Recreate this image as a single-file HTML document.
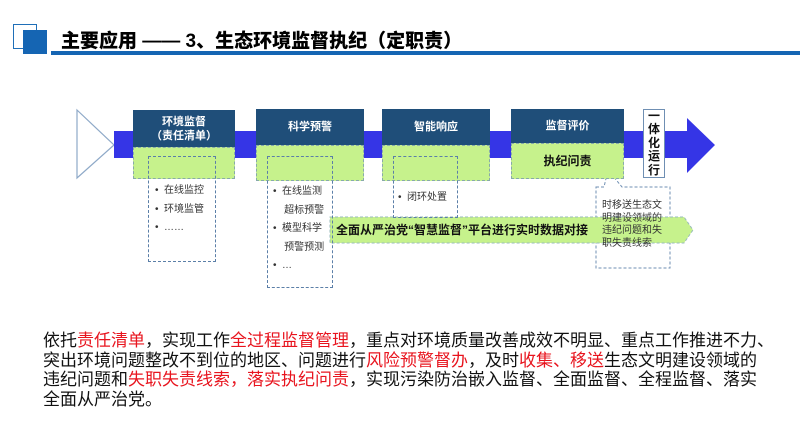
<!DOCTYPE html>
<html><head><meta charset="utf-8">
<style>
*{margin:0;padding:0;box-sizing:border-box}
body{width:800px;height:430px;background:#fff;position:relative;overflow:hidden;font-family:"Liberation Sans","Noto Sans CJK SC",sans-serif}
.a{position:absolute}
.hd{background:#1f4e79;color:#fff;font-weight:bold;font-size:11px;text-align:center;display:flex;align-items:center;justify-content:center;line-height:14px}
.gr{background:#c6f28c;border:1px dashed #8aa;}
.dl{border:1px dashed #5b7fa8;}
.li{font-size:10px;color:#333;line-height:18.5px;white-space:nowrap}
.bt{font-size:17px;line-height:19.6px;white-space:nowrap;color:#111;font-family:"Liberation Sans","Noto Sans CJK SC",sans-serif}
.r{color:#e8141e}
</style></head><body>
<div class="a" style="left:13px;top:24px;width:24px;height:25px;border:1.5px solid #1f6fb8"></div>
<div class="a" style="left:23px;top:30px;width:24px;height:24px;background:#1565b3"></div>
<div class="a" style="left:51px;top:51px;width:749px;height:4px;background:#1565b3"></div>
<div class="a" style="left:61px;top:26px;font-size:19px;font-weight:900;color:#000;white-space:nowrap">主要应用 —— 3、生态环境监督执纪（定职责）</div>

<svg class="a" style="left:0;top:0" width="800" height="300">
<polygon points="77,110 114,145 77,178" fill="#fff" stroke="#8ea9c8" stroke-width="1.2"/>
<rect x="114" y="131" width="575" height="27" fill="#3535e6"/>
<polygon points="687,118 715,145 687,173" fill="#3535e6"/>
<polygon points="596,187 604,187 608,170 622,187 670,187 670,268 596,268" fill="#fff" stroke="#6f8fb3" stroke-dasharray="3,2"/>
<polygon points="330,217 684,217 693,230 684,243 330,243" fill="#c6f28c" stroke="#9bb" stroke-dasharray="3,2"/>
</svg>

<div class="a hd" style="left:133px;top:110px;width:102px;height:37px">环境监督<br>（责任清单）</div>
<div class="a gr" style="left:133px;top:147px;width:102px;height:32px"></div>
<div class="a hd" style="left:256px;top:109px;width:108px;height:36px">科学预警</div>
<div class="a gr" style="left:256px;top:145px;width:108px;height:36px"></div>
<div class="a hd" style="left:382px;top:109px;width:108px;height:36px">智能响应</div>
<div class="a gr" style="left:382px;top:145px;width:108px;height:36px"></div>
<div class="a hd" style="left:511px;top:109px;width:113px;height:34px">监督评价</div>
<div class="a gr" style="left:511px;top:143px;width:113px;height:36px;font-size:12px;font-weight:bold;color:#111;text-align:center;line-height:34px">执纪问责</div>
<div class="a" style="left:643px;top:109px;width:22px;height:69px;background:#fff;border:1px solid #6f8fb3;font-size:12px;font-weight:bold;line-height:13.4px;text-align:center;color:#111">一<br>体<br>化<br>运<br>行</div>

<div class="a dl" style="left:148px;top:156px;width:68px;height:106px"></div>
<div class="a li" style="left:155px;top:182px">•&nbsp; 在线监控<br>•&nbsp; 环境监管<br>•&nbsp; ……</div>
<div class="a dl" style="left:267px;top:156px;width:66px;height:132px"></div>
<div class="a li" style="left:273px;top:183px">•&nbsp; 在线监测<br>&nbsp;&nbsp;&nbsp; 超标预警<br>•&nbsp; 模型科学<br>&nbsp;&nbsp;&nbsp; 预警预测<br>•&nbsp; …</div>
<div class="a dl" style="left:393px;top:156px;width:65px;height:62px"></div>
<div class="a li" style="left:398px;top:189px">•&nbsp; 闭环处置</div>

<div class="a" style="left:336px;top:221px;font-size:12px;font-weight:bold;color:#111;white-space:nowrap">全面从严治党“智慧监督”平台进行实时数据对接</div>
<div class="a" style="left:602px;top:200px;font-size:10px;line-height:12.5px;color:#333">时移送生态文<br>明建设领域的<br>违纪问题和失<br>职失责线索</div>

<div class="a bt" style="left:43px;top:331px">依托<span class="r">责任清单</span>，实现工作<span class="r">全过程监督管理</span>，重点对环境质量改善成效不明显、重点工作推进不力、<br>突出环境问题整改不到位的地区、问题进行<span class="r">风险预警督办</span>，及时<span class="r">收集、移送</span>生态文明建设领域的<br>违纪问题和<span class="r">失职失责线索，落实执纪问责</span>，实现污染防治嵌入监督、全面监督、全程监督、落实<br>全面从严治党。</div>
</body></html>
